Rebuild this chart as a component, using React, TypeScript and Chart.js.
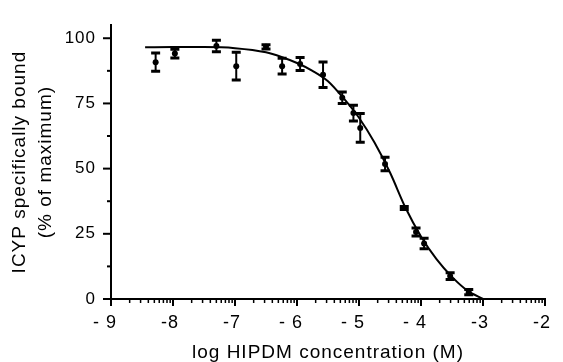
import React, { useEffect, useRef } from 'react';
import { Chart, registerables } from 'chart.js';

Chart.register(...registerables);

// Measured points: log concentration, % bound, error (half-length)
const concX = [-8.28, -7.97, -7.3, -6.98, -6.5, -6.24, -5.95, -5.58, -5.27, -5.09, -4.98, -4.58, -4.27, -4.08, -3.95, -3.53, -3.23];
const boundY = [90.8, 94.1, 97.0, 89.3, 96.7, 89.3, 90.1, 86.0, 77.2, 71.3, 65.6, 51.8, 34.9, 25.7, 21.3, 8.8, 2.6];
const boundErr = [3.5, 1.7, 2.2, 5.3, 0.8, 3.0, 2.5, 4.9, 2.2, 3.0, 5.5, 2.6, 0.6, 1.5, 2.0, 1.3, 1.0];

// Fitted curve
const fitX = [-8.45, -8, -7.5, -7, -6.5, -6.25, -6, -5.75, -5.5, -5.25, -5, -4.75, -4.5, -4.25, -4, -3.75, -3.5, -3.25, -3.0];
const fitY = [96.5, 96.6, 96.6, 96.2, 94.6, 92.8, 90.5, 87.5, 83.5, 77.0, 69.5, 60.0, 48.5, 35.0, 24.0, 15.3, 8.5, 3.2, 0];

const xTickValues = [-9, -8, -7, -6, -5, -4, -3, -2];
const xTickLabels = ['- 9', '-8', '-7', '- 6', '- 5', '- 4', '-3', '-2'];
const yTickValues = [0, 25, 50, 75, 100];
const yTickLabels = ['0', '25', '50', '75', '100'];
const yMinorValues = [12.5, 37.5, 62.5, 87.5];
const X_TITLE = 'log HIPDM concentration (M)';
const Y_TITLE = ['ICYP specifically bound', '(% of maximum)'];

const FONT = '"Liberation Sans", Arial, Helvetica, sans-serif';

const spacingPlugin = {
  id: 'spacing',
  beforeUpdate(chart: any) { chart.ctx.letterSpacing = '1px'; },
  beforeDraw(chart: any) { chart.ctx.letterSpacing = '1px'; },
};

const ticksPlugin = {
  id: 'customTicks',
  afterDraw(chart: any) {
    const { ctx, chartArea } = chart;
    const xs = chart.scales.x;
    const ys = chart.scales.y;
    const line = (x1: number, y1: number, x2: number, y2: number, w: number) => {
      ctx.lineWidth = w;
      ctx.beginPath();
      ctx.moveTo(x1, y1);
      ctx.lineTo(x2, y2);
      ctx.stroke();
    };
    ctx.save();
    ctx.strokeStyle = '#000';
    xTickValues.forEach((v) => {
      const px = xs.getPixelForValue(v);
      line(px, chartArea.bottom, px, chartArea.bottom + 7, 2);
    });
    for (let d = 0; d < xTickValues.length - 1; d++) {
      for (let k = 2; k <= 9; k++) {
        const px = xs.getPixelForValue(xTickValues[d] + Math.log10(k));
        line(px, chartArea.bottom, px, chartArea.bottom + 4, 1.5);
      }
    }
    yTickValues.forEach((v) => {
      const py = ys.getPixelForValue(v);
      line(chartArea.left - 8, py, chartArea.left, py, 2);
    });
    yMinorValues.forEach((v) => {
      const py = ys.getPixelForValue(v);
      line(chartArea.left - 4, py, chartArea.left, py, 2);
    });
    ctx.restore();
  },
};

const errorBarPlugin = {
  id: 'errorBars',
  afterDatasetsDraw(chart: any) {
    const { ctx } = chart;
    const xs = chart.scales.x;
    const ys = chart.scales.y;
    ctx.save();
    ctx.strokeStyle = '#000';
    concX.forEach((xv, i) => {
      const px = xs.getPixelForValue(xv);
      const top = ys.getPixelForValue(boundY[i] + boundErr[i]);
      const bot = ys.getPixelForValue(boundY[i] - boundErr[i]);
      ctx.lineWidth = 2;
      ctx.beginPath();
      ctx.moveTo(px, top);
      ctx.lineTo(px, bot);
      ctx.stroke();
      ctx.lineWidth = 3;
      ctx.beginPath();
      ctx.moveTo(px - 4.5, top);
      ctx.lineTo(px + 4.5, top);
      ctx.moveTo(px - 4.5, bot);
      ctx.lineTo(px + 4.5, bot);
      ctx.stroke();
    });
    ctx.restore();
  },
};

export default function App() {
  const canvasRef = useRef<HTMLCanvasElement | null>(null);

  useEffect(() => {
    const canvas = canvasRef.current;
    if (!canvas) return;
    const chart = new Chart(canvas, {
      type: 'scatter',
      data: {
        datasets: [
          {
            data: concX.map((x, i) => ({ x, y: boundY[i] })),
            pointRadius: 3,
            pointBackgroundColor: '#000',
            pointBorderColor: '#000',
            pointBorderWidth: 0,
            showLine: false,
          },
          {
            data: fitX.map((x, i) => ({ x, y: fitY[i] })),
            showLine: true,
            pointRadius: 0,
            borderColor: '#000',
            borderWidth: 2,
            cubicInterpolationMode: 'monotone',
            clip: false as any,
          } as any,
        ],
      },
      options: {
        responsive: false,
        animation: false,
        devicePixelRatio: 1,
        layout: { padding: { left: 0, right: 18, top: 13, bottom: 0 } },
        plugins: { legend: { display: false }, tooltip: { enabled: false } },
        scales: {
          x: {
            type: 'linear',
            min: -9,
            max: -2,
            afterBuildTicks: (s: any) => { s.ticks = xTickValues.map((v) => ({ value: v })); },
            afterFit: (s: any) => { s.height = 63; },
            grid: { display: false, drawTicks: false },
            border: { display: true, color: '#000', width: 2 },
            ticks: {
              autoSkip: false,
              maxRotation: 0,
              align: 'end',
              labelOffset: 6,
              padding: 13,
              color: '#000',
              font: { family: FONT, size: 18 },
              callback: (v: any) => xTickLabels[xTickValues.indexOf(Number(v))] ?? '',
            },
            title: {
              display: true,
              text: X_TITLE,
              color: '#000',
              padding: 0,
              font: { family: FONT, size: 19, lineHeight: 1 },
            },
          },
          y: {
            type: 'linear',
            min: 0,
            max: 105,
            afterBuildTicks: (s: any) => { s.ticks = yTickValues.map((v) => ({ value: v })); },
            afterFit: (s: any) => { s.width = 111; },
            grid: { display: false, drawTicks: false },
            border: { display: true, color: '#000', width: 2 },
            ticks: {
              padding: 15,
              color: '#000',
              font: { family: FONT, size: 17 },
              callback: (v: any) => yTickLabels[yTickValues.indexOf(Number(v))] ?? '',
            },
            title: {
              display: true,
              text: Y_TITLE,
              color: '#000',
              padding: { top: 7, bottom: 0 },
              font: { family: FONT, size: 19, lineHeight: 1.37 },
            },
          },
        },
      } as any,
      plugins: [spacingPlugin, ticksPlugin, errorBarPlugin],
    });
    return () => chart.destroy();
  }, []);

  return (
    <div style={{ position: 'fixed', left: 0, top: 0, width: 563, height: 362, background: '#fff' }}>
      <canvas ref={canvasRef} width={563} height={362} style={{ display: 'block' }} />
    </div>
  );
}
